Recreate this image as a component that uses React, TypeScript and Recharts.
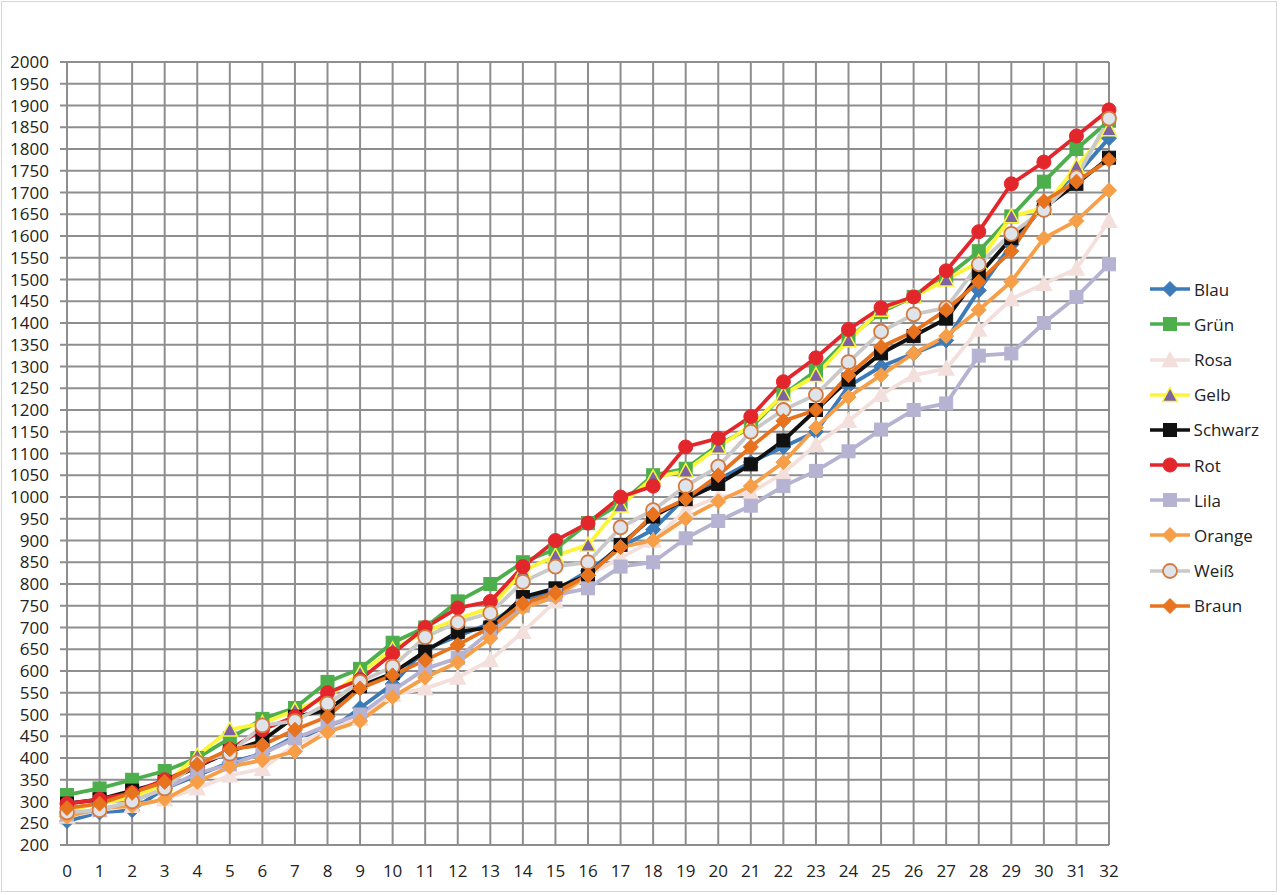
import React from 'react';
import { LineChart, Line, XAxis, YAxis, CartesianGrid, Legend } from 'recharts';

const steps = Array.from({ length: 33 }, (_, i) => i);
const yTicks = Array.from({ length: 37 }, (_, i) => 200 + i * 50);

const blau = [255, 275, 280, 330, 360, 390, 410, 450, 460, 515, 570, 650, 680, 710, 760, 785, 830, 885, 925, 1000, 1040, 1080, 1115, 1150, 1255, 1300, 1330, 1360, 1475, 1580, 1670, 1740, 1825];
const gruen = [315, 330, 350, 370, 400, 445, 490, 515, 575, 605, 665, 700, 760, 800, 850, 880, 940, 985, 1050, 1065, 1120, 1160, 1235, 1290, 1365, 1425, 1460, 1505, 1565, 1645, 1725, 1800, 1865];
const rosa = [265, 280, 290, 305, 330, 360, 375, 430, 465, 490, 545, 560, 585, 625, 690, 760, 820, 860, 900, 970, 1000, 1010, 1055, 1120, 1175, 1235, 1280, 1295, 1385, 1455, 1490, 1525, 1635];
const gelb = [280, 295, 310, 340, 405, 465, 480, 510, 540, 595, 650, 690, 720, 745, 830, 865, 890, 980, 1045, 1060, 1115, 1165, 1235, 1280, 1360, 1430, 1460, 1500, 1540, 1645, 1665, 1760, 1845];
const schwarz = [295, 305, 325, 345, 380, 415, 440, 495, 510, 565, 595, 645, 690, 700, 770, 790, 820, 890, 955, 995, 1030, 1075, 1130, 1200, 1270, 1330, 1370, 1410, 1510, 1595, 1665, 1720, 1780];
const rot = [295, 305, 320, 350, 380, 420, 465, 495, 550, 580, 640, 700, 745, 760, 840, 900, 940, 1000, 1025, 1115, 1135, 1185, 1265, 1320, 1385, 1435, 1460, 1520, 1610, 1720, 1770, 1830, 1890];
const lila = [270, 280, 300, 330, 365, 385, 410, 445, 475, 500, 555, 605, 630, 690, 750, 775, 790, 840, 850, 905, 945, 980, 1025, 1060, 1105, 1155, 1200, 1215, 1325, 1330, 1400, 1460, 1535];
const orange = [265, 285, 290, 305, 345, 380, 395, 415, 460, 485, 540, 585, 620, 675, 745, 770, 820, 885, 900, 950, 990, 1025, 1080, 1160, 1230, 1280, 1330, 1370, 1430, 1495, 1595, 1635, 1705];
const weiss = [275, 280, 300, 330, 390, 410, 475, 485, 525, 575, 610, 678, 712, 733, 805, 840, 850, 930, 970, 1025, 1070, 1150, 1200, 1235, 1310, 1380, 1420, 1435, 1535, 1605, 1660, 1735, 1870];
const braun = [285, 295, 320, 345, 385, 420, 430, 465, 495, 560, 590, 625, 660, 700, 755, 780, 820, 885, 960, 995, 1050, 1115, 1175, 1200, 1280, 1345, 1380, 1430, 1495, 1565, 1680, 1725, 1775];

type Shape = 'diamond' | 'square' | 'triangle' | 'circle';

const series = [
  { key: 'Blau', values: blau, color: '#3d7ab8', shape: 'diamond' as Shape, fill: '#3d7ab8', border: '#3d7ab8' },
  { key: 'Grün', values: gruen, color: '#4dae4c', shape: 'square' as Shape, fill: '#4dae4c', border: '#4dae4c' },
  { key: 'Rosa', values: rosa, color: '#f3dfdc', shape: 'triangle' as Shape, fill: '#f3dfdc', border: '#f3dfdc' },
  { key: 'Gelb', values: gelb, color: '#fbf53a', shape: 'triangle' as Shape, fill: '#7d62a6', border: '#fbf53a' },
  { key: 'Schwarz', values: schwarz, color: '#111111', shape: 'square' as Shape, fill: '#111111', border: '#111111' },
  { key: 'Rot', values: rot, color: '#e3262b', shape: 'circle' as Shape, fill: '#e3262b', border: '#e3262b' },
  { key: 'Lila', values: lila, color: '#b5b2d2', shape: 'square' as Shape, fill: '#b5b2d2', border: '#b5b2d2' },
  { key: 'Orange', values: orange, color: '#f69f48', shape: 'diamond' as Shape, fill: '#f69f48', border: '#f69f48' },
  { key: 'Weiß', values: weiss, color: '#c9c9c9', shape: 'circle' as Shape, fill: '#dfe3ea', border: '#d47a3f' },
  { key: 'Braun', values: braun, color: '#e8731f', shape: 'diamond' as Shape, fill: '#e8731f', border: '#e8731f' },
];

const data = steps.map((step, i) => {
  const row: Record<string, number> = { step };
  series.forEach(s => {
    row[s.key] = s.values[i];
  });
  return row;
});

const MarkerShape = ({ cx, cy, shape, fill, border }: any) => {
  if (cx == null || cy == null) return null;
  if (shape === 'diamond') {
    const r = 7.5;
    return <polygon points={`${cx},${cy - r} ${cx + r},${cy} ${cx},${cy + r} ${cx - r},${cy}`} fill={fill} stroke={border} strokeWidth={1} />;
  }
  if (shape === 'square') {
    const h = 6.5;
    return <rect x={cx - h} y={cy - h} width={h * 2} height={h * 2} fill={fill} stroke={border} strokeWidth={1} />;
  }
  if (shape === 'triangle') {
    const h = 7.5;
    return <polygon points={`${cx},${cy - h} ${cx + h},${cy + h * 0.85} ${cx - h},${cy + h * 0.85}`} fill={fill} stroke={border} strokeWidth={1.5} />;
  }
  return <circle cx={cx} cy={cy} r={7} fill={fill} stroke={border} strokeWidth={border === fill ? 1 : 1.8} />;
};

const LegendList = () => (
  <div style={{ paddingLeft: 41, fontFamily: '"Open Sans", sans-serif', fontSize: 17, color: '#222' }}>
    {series.map(s => (
      <div key={s.key} style={{ height: 35.2, display: 'flex', alignItems: 'center' }}>
        <svg width={42} height={20} style={{ marginRight: 2 }}>
          <line x1={0} y1={10} x2={40} y2={10} stroke={s.color} strokeWidth={3.5} />
          <MarkerShape cx={20} cy={10} shape={s.shape} fill={s.fill} border={s.border} />
        </svg>
        <span>{s.key}</span>
      </div>
    ))}
  </div>
);

export default function App() {
  return (
    <div style={{ position: 'absolute', left: 0, top: 0, width: 1280, height: 895, background: '#fff' }}>
      <div style={{ position: 'absolute', left: 1, top: 1, width: 1276, height: 891, border: '1px solid #d6d6d6', boxSizing: 'border-box' }} />
      <LineChart width={1280} height={895} data={data} margin={{ top: 62, right: 21, bottom: 20, left: 0 }}>
        <CartesianGrid stroke="#8e8e8e" strokeWidth={2} />
        <XAxis
          dataKey="step"
          type="number"
          domain={[0, 32]}
          ticks={steps}
          interval={0}
          axisLine={{ stroke: '#8e8e8e', strokeWidth: 2 }}
          tickLine={false}
          tickMargin={14}
          height={30}
          tick={{ fill: '#222', fontSize: 17, fontFamily: '"Open Sans", sans-serif' }}
        />
        <YAxis
          type="number"
          domain={[200, 2000]}
          ticks={yTicks}
          interval={0}
          width={67}
          axisLine={{ stroke: '#8e8e8e', strokeWidth: 2 }}
          tickLine={{ stroke: '#8e8e8e', strokeWidth: 2 }}
          tickSize={7}
          tickMargin={11}
          tick={{ fill: '#222', fontSize: 17, fontFamily: '"Open Sans", sans-serif' }}
        />
        <Legend layout="vertical" align="right" verticalAlign="middle" width={150} content={<LegendList />} />
        {series.map(s => (
          <Line
            key={s.key}
            dataKey={s.key}
            name={s.key}
            stroke={s.color}
            strokeWidth={3.8}
            isAnimationActive={false}
            dot={(props: any) => (
              <MarkerShape key={`${s.key}-${props.index}`} cx={props.cx} cy={props.cy} shape={s.shape} fill={s.fill} border={s.border} />
            )}
            activeDot={false}
          />
        ))}
      </LineChart>
    </div>
  );
}
